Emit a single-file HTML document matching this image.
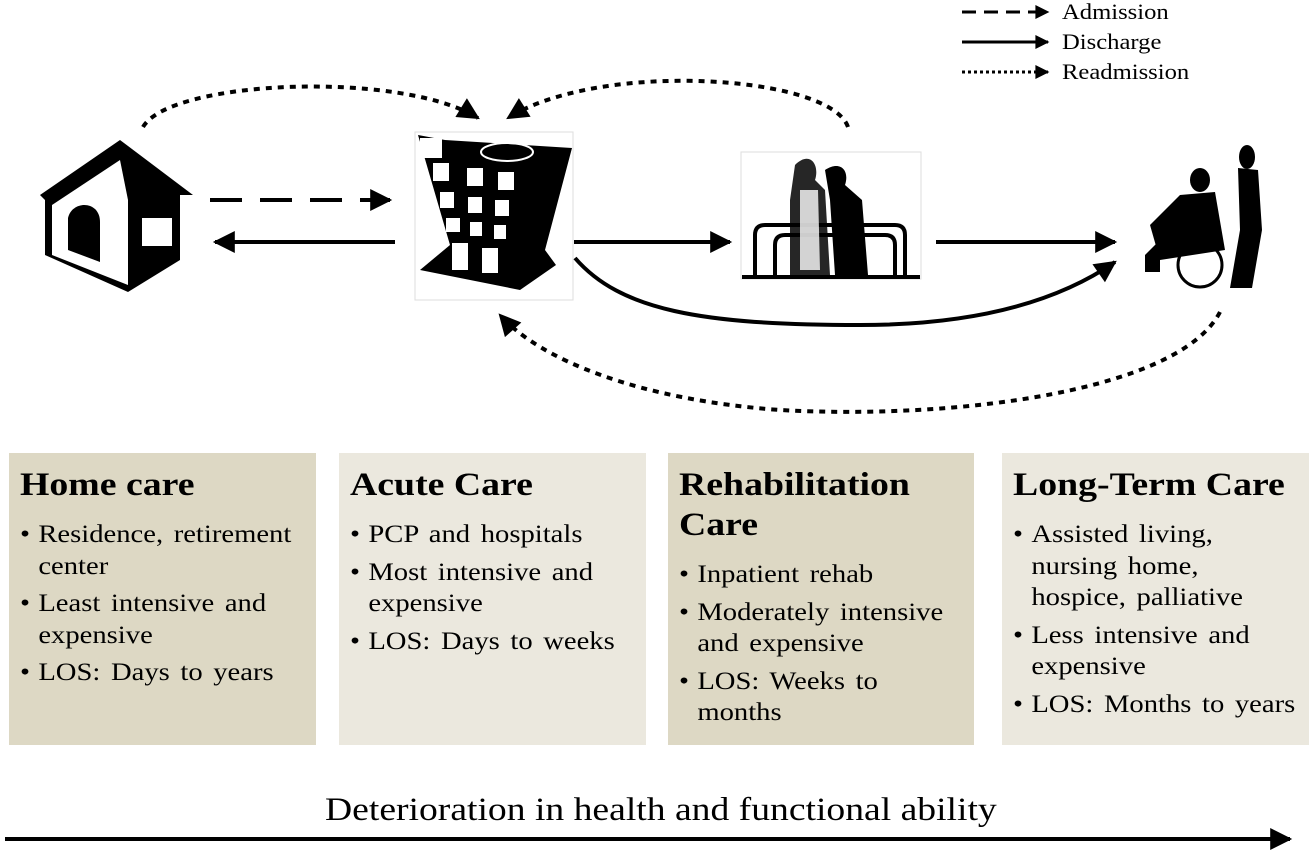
<!DOCTYPE html>
<html><head><meta charset="utf-8"><style>
body{margin:0;background:#fff;width:1309px;height:866px;overflow:hidden;font-family:"Liberation Serif",serif;}
.box{position:absolute;top:453px;height:292px;box-sizing:border-box;padding:12px 6px 0 11px;}
.in{transform:scaleX(1.145);transform-origin:0 0;white-space:nowrap}
.box h2{margin:0;font-size:33px;font-weight:bold;line-height:40px}
.box ul{margin:14px 0 0 0;padding:0;list-style:none;font-size:25px;line-height:31.5px;word-spacing:3px}
.box li{position:relative;padding-left:16px;margin-bottom:6px}
.box li:before{content:"•";position:absolute;left:0;}
</style></head><body>
<svg width="1309" height="866" style="position:absolute;left:0;top:0">
<defs>
<marker id="b" viewBox="0 0 10 10" refX="9" refY="5" markerWidth="24" markerHeight="22" orient="auto" markerUnits="userSpaceOnUse"><path d="M0,0 L10,5 L0,10 z"/></marker>
<marker id="s" viewBox="0 0 10 10" refX="9" refY="5" markerWidth="16" markerHeight="14" orient="auto" markerUnits="userSpaceOnUse"><path d="M0,0 L10,5 L0,10 z"/></marker>
</defs>
<g stroke="#000" stroke-width="3" fill="none">
<line x1="962" y1="12" x2="1048" y2="12" stroke-dasharray="14,8" marker-end="url(#s)"/>
<line x1="962" y1="42" x2="1048" y2="42" marker-end="url(#s)"/>
<line x1="962" y1="72" x2="1048" y2="72" stroke-dasharray="3,3" marker-end="url(#s)"/>
</g>
<g font-size="22" font-family="Liberation Serif" transform="translate(1062,0) scale(1.12,1)">
<text x="0" y="19">Admission</text><text x="0" y="49">Discharge</text><text x="0" y="79">Readmission</text>
</g>
<g stroke="#000" stroke-width="4" fill="none">
<line x1="210" y1="200" x2="390" y2="200" stroke-dasharray="32,18" marker-end="url(#b)"/>
<line x1="395" y1="242" x2="215" y2="242" marker-end="url(#b)"/>
<line x1="574" y1="242" x2="730" y2="242" marker-end="url(#b)"/>
<line x1="936" y1="242" x2="1115" y2="242" marker-end="url(#b)"/>
<path d="M575,258 C620,310 700,325 860,325 C980,325 1060,300 1115,262" marker-end="url(#b)"/>
<path d="M143,127 C170,80 400,70 478,118" stroke-dasharray="6,6" marker-end="url(#b)"/>
<path d="M848,127 C830,75 600,60 508,118" stroke-dasharray="6,6" marker-end="url(#b)"/>
<path d="M1220,312 C1180,390 960,420 780,410 C640,400 540,360 500,315" stroke-dasharray="6,6" marker-end="url(#b)"/>
<line x1="5" y1="839" x2="1290" y2="839" stroke-width="4" marker-end="url(#b)"/>
</g>
<g>
<path d="M40,195 L120,140 L193,195 L180,195 L180,260 L128,292 L45,255 L45,200 z" fill="#000"/>
<path d="M52,205 L120,160 L128,200 L128,285 L52,255 z" fill="#fff"/>
<path d="M68,218 C72,200 100,200 100,222 L100,262 L68,250 z" fill="#000"/>
<rect x="142" y="218" width="30" height="28" fill="#fff"/>
</g>
<rect x="415" y="132" width="158" height="168" fill="#fff" stroke="#ddd"/>
<path d="M418,135 L445,140 L572,148 L545,250 L556,265 L520,290 L420,270 L450,245 z" fill="#000"/>
<rect x="420" y="138" width="22" height="20" fill="#fff"/>
<ellipse cx="507" cy="152" rx="26" ry="9" fill="none" stroke="#fff" stroke-width="2"/>
<g fill="#fff"><rect x="433" y="163" width="16" height="18"/><rect x="467" y="168" width="16" height="18"/><rect x="498" y="172" width="16" height="18"/>
<rect x="440" y="192" width="14" height="16"/><rect x="468" y="197" width="14" height="16"/><rect x="495" y="200" width="14" height="16"/>
<rect x="446" y="218" width="14" height="14"/><rect x="470" y="222" width="12" height="14"/><rect x="494" y="225" width="12" height="14"/>
<rect x="452" y="243" width="16" height="27"/><rect x="482" y="248" width="16" height="25"/></g>
<rect x="741" y="152" width="180" height="127" fill="#fff" stroke="#ddd"/>
<g fill="none" stroke="#000" stroke-width="4">
<path d="M755,277 L755,235 Q755,225 765,225 L895,225 Q905,225 905,235 L905,277"/>
<path d="M775,277 L775,245 Q775,235 785,235 L885,235 Q895,235 895,245 L895,277"/>
<line x1="742" y1="277" x2="920" y2="277"/>
</g>
<path d="M795,165 C810,150 820,165 815,180 L825,190 L830,275 L790,275 L790,200 z" fill="#000" opacity="0.85"/>
<path d="M800,190 L818,190 L820,270 L800,270 z" fill="#fff" opacity="0.8"/>
<path d="M825,170 C840,160 850,170 845,185 L862,200 L868,275 L835,275 L830,200 z" fill="#000"/>
<g fill="#000">
<ellipse cx="1247" cy="157" rx="8" ry="12"/>
<path d="M1238,168 L1258,170 L1262,230 L1252,288 L1230,288 L1240,230 z"/>
<ellipse cx="1200" cy="180" rx="10" ry="12"/>
<path d="M1180,195 L1215,192 L1225,250 L1160,260 L1150,225 z"/>
<path d="M1145,255 L1160,240 L1160,272 L1145,272 z"/>
</g>
<circle cx="1200" cy="265" r="22" fill="none" stroke="#000" stroke-width="3"/>
</svg>
<div class="box" style="left:9px;width:307px;background:#ddd8c4"><div class="in"><h2>Home care</h2><ul><li>Residence, retirement<br>center</li><li>Least intensive and<br>expensive</li><li>LOS: Days to years</li></ul></div></div>
<div class="box" style="left:339px;width:307px;background:#ebe8de"><div class="in"><h2>Acute Care</h2><ul><li>PCP and hospitals</li><li>Most intensive and<br>expensive</li><li>LOS: Days to weeks</li></ul></div></div>
<div class="box" style="left:668px;width:306px;background:#ddd8c4"><div class="in"><h2>Rehabilitation<br>Care</h2><ul style="margin-top:14px"><li>Inpatient rehab</li><li>Moderately intensive<br>and expensive</li><li>LOS: Weeks to<br>months</li></ul></div></div>
<div class="box" style="left:1002px;width:307px;background:#ebe8de"><div class="in"><h2>Long-Term Care</h2><ul><li>Assisted living,<br>nursing home,<br>hospice, palliative</li><li>Less intensive and<br>expensive</li><li>LOS: Months to years</li></ul></div></div>
<div style="position:absolute;left:325px;top:792px;font-size:33px;white-space:nowrap;transform:scaleX(1.14);transform-origin:0 0">Deterioration in health and functional ability</div>
</body></html>
